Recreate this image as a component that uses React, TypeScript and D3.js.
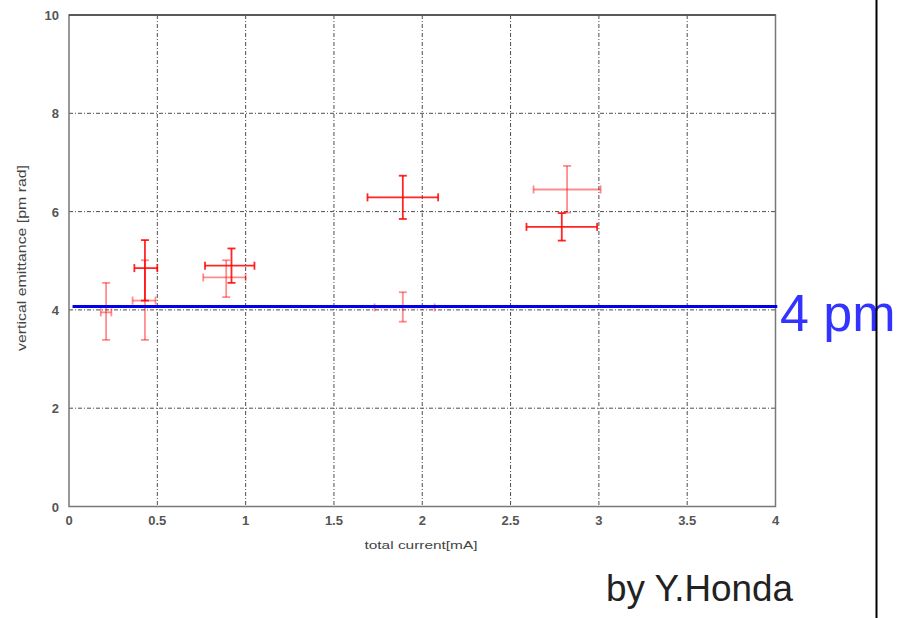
import React from "react";
import * as d3 from "d3";

const xTicks = [0, 0.5, 1, 1.5, 2, 2.5, 3, 3.5, 4];
const xTickLabels = ["0", "0.5", "1", "1.5", "2", "2.5", "3", "3.5", "4"];
const yTicks = [0, 2, 4, 6, 8, 10];
const yTickLabels = ["0", "2", "4", "6", "8", "10"];

// strong series: x, y, xLow, xHigh, yLow, yHigh
const strongX = [0.43, 0.92, 1.89, 2.79];
const strongY = [4.85, 4.9, 6.29, 5.69];
const strongXLow = [0.37, 0.77, 1.69, 2.59];
const strongXHigh = [0.5, 1.05, 2.09, 2.99];
const strongYLow = [4.19, 4.55, 5.85, 5.41];
const strongYHigh = [5.42, 5.25, 6.73, 5.97];

// faint series
const faintX = [0.21, 0.43, 0.89, 1.89, 2.82];
const faintY = [3.95, 4.19, 4.66, 4.05, 6.45];
const faintXLow = [0.18, 0.36, 0.76, 1.73, 2.63];
const faintXHigh = [0.24, 0.49, 1.0, 2.07, 3.01];
const faintYLow = [3.39, 3.39, 4.26, 3.76, 5.98];
const faintYHigh = [4.55, 5.01, 5.01, 4.36, 6.93];

const refLevel = 4.07;
const refLabel = "4 pm";
const xTitle = "total current[mA]";
const yTitle = "vertical emittance [pm rad]";
const credit = "by Y.Honda";

export default function App() {
  const W = 913;
  const H = 618;
  const x = d3.scaleLinear().domain([0, 4]).range([69, 775.5]);
  const y = d3.scaleLinear().domain([0, 10]).range([506.5, 15]);
  const font = "Liberation Sans, Arial, sans-serif";

  const renderSeries = (
    xs: number[], ys: number[], xl: number[], xh: number[], yl: number[], yh: number[],
    opacity: number, key: string
  ) =>
    xs.map((xv, i) => {
      const cx = x(xv);
      const cy = y(ys[i]);
      const capV = 4;
      const capH = 4;
      return (
        <g key={key + i} stroke="#ff0000" strokeOpacity={opacity} strokeWidth={1.8} fill="none">
          <line x1={x(xl[i])} x2={x(xh[i])} y1={cy} y2={cy} />
          <line x1={x(xl[i])} x2={x(xl[i])} y1={cy - capV} y2={cy + capV} />
          <line x1={x(xh[i])} x2={x(xh[i])} y1={cy - capV} y2={cy + capV} />
          <line x1={cx} x2={cx} y1={y(yl[i])} y2={y(yh[i])} />
          <line x1={cx - capH} x2={cx + capH} y1={y(yl[i])} y2={y(yl[i])} />
          <line x1={cx - capH} x2={cx + capH} y1={y(yh[i])} y2={y(yh[i])} />
        </g>
      );
    });

  return (
    <div style={{ position: "absolute", left: 0, top: 0 }}>
      <svg width={W} height={H} style={{ display: "block", background: "#fff" }}>
        {/* grid */}
        <g stroke="#222" strokeWidth={1} strokeDasharray="4,2,1,2" opacity={0.8}>
          {xTicks.slice(1, -1).map((t) => (
            <line key={"gx" + t} x1={x(t)} x2={x(t)} y1={y(10)} y2={y(0)} />
          ))}
          {yTicks.slice(1, -1).map((t) => (
            <line key={"gy" + t} x1={x(0)} x2={x(4)} y1={y(t)} y2={y(t)} />
          ))}
        </g>
        {/* frame */}
        <rect x={x(0)} y={y(10)} width={x(4) - x(0)} height={y(0) - y(10)} fill="none" stroke="#777" strokeWidth={1.5} />
        <line x1={x(0)} x2={x(4)} y1={y(10)} y2={y(10)} stroke="#444" strokeWidth={1.5} />
        {/* ticks */}
        <g fontFamily={font} fontSize={13} fill="#555" fontWeight="bold">
          {xTicks.map((t, i) => (
            <text key={"xt" + t} x={x(t)} y={525} textAnchor="middle">{xTickLabels[i]}</text>
          ))}
          {yTicks.map((t, i) => (
            <text key={"yt" + t} x={59} y={y(t) + 5} textAnchor="end">{yTickLabels[i]}</text>
          ))}
        </g>
        <text x={421} y={549} textAnchor="middle" fontFamily={font} fontSize={11} fill="#444" textLength={113} lengthAdjust="spacingAndGlyphs">{xTitle}</text>
        <text transform={`translate(26,${258}) rotate(-90)`} textAnchor="middle" fontFamily={font} fontSize={12} fill="#444" textLength={186} lengthAdjust="spacingAndGlyphs">{yTitle}</text>
        {/* data */}
        {renderSeries(faintX, faintY, faintXLow, faintXHigh, faintYLow, faintYHigh, 0.45, "f")}
        {renderSeries(strongX, strongY, strongXLow, strongXHigh, strongYLow, strongYHigh, 0.85, "s")}
        {/* reference line */}
        <line x1={x(0.02)} x2={x(4.01)} y1={y(refLevel)} y2={y(refLevel)} stroke="#0000ee" strokeWidth={3} />
        <text x={780} y={331} fontFamily={font} fontSize={52} fill="#3333ff">{refLabel}</text>
        <line x1={876.5} x2={876.5} y1={0} y2={H} stroke="#000" strokeWidth={2} />
        <text x={606} y={601} fontFamily={font} fontSize={37} fill="#222" textLength={187} lengthAdjust="spacingAndGlyphs">{credit}</text>
      </svg>
    </div>
  );
}
